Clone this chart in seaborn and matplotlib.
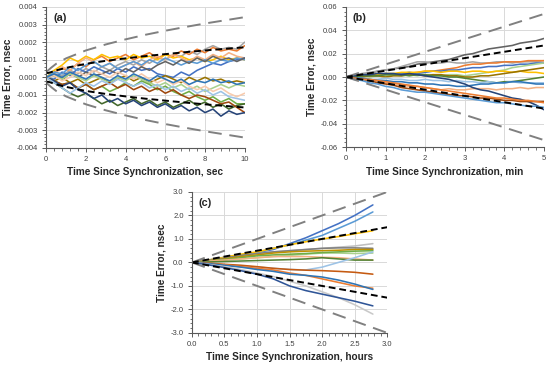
import matplotlib
matplotlib.use("Agg")
import matplotlib.pyplot as plt
from matplotlib.ticker import AutoMinorLocator, MultipleLocator, FuncFormatter
import numpy as np
import pandas as pd
import seaborn as sns

sns.set_theme(style="white")
plt.rcParams['font.family'] = ['Liberation Sans', 'DejaVu Sans']

# ---------------- panel (a): seconds, values in 1e-3 nsec ----------------
t_a = [0, 0.4, 0.8, 1.2, 1.6, 2.0, 2.4, 2.8, 3.2, 3.6, 4.0, 4.4, 4.8, 5.2,
       5.6, 6.0, 6.4, 6.8, 7.2, 7.6, 8.0, 8.4, 8.8, 9.2, 9.6, 10.0]
runs_a = {
    '#A5A5A5': [0, 0.2, 0.1, 0.4, 0.2, 0.5, 0.3, 0.6, 0.4, 0.7, 0.9, 0.7, 1.0, 0.8, 1.1, 1.0, 1.3, 1.2, 1.5, 1.3, 1.6, 1.8, 1.6, 1.7, 1.6, 2.0],
    '#ED7D31': [0, 0.3, 0.5, 0.4, 0.8, 0.6, 1.0, 1.2, 0.9, 1.1, 1.3, 1.0, 1.2, 1.4, 1.1, 1.3, 1.2, 1.5, 1.3, 1.6, 1.4, 1.7, 1.5, 1.6, 1.5, 1.8],
    '#FFC000': [0, 0.4, 0.7, 1.1, 0.9, 1.2, 1.0, 1.3, 1.1, 1.2, 1.0, 1.3, 1.1, 1.2, 1.0, 1.3, 1.1, 1.2, 1.0, 1.1, 0.9, 1.0, 1.2, 1.0, 1.1, 1.0],
    '#F4B183': [0, 0.2, 0.6, 0.4, 0.8, 1.1, 0.9, 0.6, 0.8, 0.5, 0.7, 0.9, 0.6, 1.0, 1.2, 1.0, 1.3, 1.1, 0.9, 1.2, 1.0, 1.3, 1.1, 1.4, 1.2, 1.1],
    '#4472C4': [0, -0.1, 0.3, 0.1, 0.5, 0.3, 0.6, 0.4, 0.2, 0.5, 0.3, 0.6, 0.4, 0.5, 0.2, 0.1, 0.0, 0.3, 0.1, 0.4, 0.6, 0.8, 0.7, 0.9, 1.0, 1.1],
    '#5B9BD5': [0, 0.3, 0.2, 0.6, 0.4, 0.7, 0.9, 0.6, 0.8, 0.5, 0.7, 0.9, 0.7, 1.0, 0.8, 1.1, 0.9, 0.7, 0.9, 0.8, 1.0, 0.8, 1.0, 0.9, 1.1, 1.0],
    '#636363': [0, 0.1, -0.1, 0.2, 0.0, 0.3, 0.1, 0.2, 0.4, 0.2, 0.5, 0.3, 0.6, 0.4, 0.7, 0.9, 0.7, 1.0, 0.8, 1.1, 0.9, 1.2, 1.0, 1.1, 0.9, 1.1],
    '#997300': [0, -0.2, 0.0, -0.3, -0.1, -0.4, -0.2, 0.0, -0.3, -0.1, 0.1, -0.2, 0.0, -0.3, -0.1, 0.1, -0.1, -0.3, 0.0, -0.2, 0.0, -0.2, -0.1, -0.3, -0.2, -0.3],
    '#A9D18E': [0, 0.1, -0.1, 0.2, 0.0, -0.2, 0.1, -0.1, -0.3, 0.0, -0.2, 0.1, -0.1, -0.3, -0.5, -0.3, -0.6, -0.4, -0.7, -0.5, -0.8, -0.6, -0.4, -0.6, -0.4, -0.5],
    '#70AD47': [0, -0.2, -0.4, -0.3, -0.6, -0.4, -0.7, -0.5, -0.8, -0.6, -0.3, -0.5, -0.2, -0.4, -0.7, -0.5, -0.8, -1.0, -0.8, -1.1, -1.3, -1.1, -1.4, -1.2, -1.5, -1.5],
    '#43682B': [0, -0.3, -0.6, -0.9, -1.1, -0.9, -1.2, -1.5, -1.3, -1.6, -1.4, -1.2, -1.5, -1.3, -1.6, -1.4, -1.7, -1.5, -1.3, -1.6, -1.4, -1.7, -1.5, -1.8, -1.6, -1.5],
    '#9E480E': [0, -0.2, -0.4, -0.3, -0.6, -0.4, -0.7, -0.5, -0.3, -0.6, -0.4, -0.7, -0.5, -0.8, -0.6, -0.9, -0.7, -1.0, -1.2, -1.0, -1.1, -1.3, -1.5, -1.4, -1.7, -2.0],
    '#264478': [0, -0.2, -0.5, -0.3, -0.7, -0.9, -1.2, -1.0, -1.4, -1.2, -1.5, -1.3, -1.6, -1.4, -1.7, -1.5, -1.8, -1.6, -1.9, -1.7, -2.0, -1.8, -2.2, -1.9, -2.1, -2.0],
    '#F8CBAD': [0, 0.1, -0.2, 0.0, 0.3, 0.1, 0.4, 0.2, 0.0, 0.3, 0.1, -0.1, 0.2, -0.1, -0.3, -0.1, -0.4, -0.2, -0.5, -0.7, -0.5, -0.8, -0.6, -0.9, -1.1, -0.9],
    '#9DC3E6': [0, -0.3, -0.6, -0.9, -0.6, -0.3, -0.5, -0.2, -0.4, -0.1, -0.3, -0.5, -0.3, -0.6, -0.4, -0.7, -0.5, -0.8, -0.6, -0.9, -0.7, -1.0, -0.8, -1.1, -1.2, -1.3],
    '#2E75B6': [0, 0.2, 0.0, 0.3, 0.1, -0.1, 0.2, 0.0, -0.2, 0.1, -0.1, 0.2, 0.0, -0.2, 0.1, -0.1, -0.3, -0.1, -0.4, -0.2, -0.3, -0.1, -0.3, -0.2, -0.4, -0.3],
}
env_t_a = [0, 0.1, 0.25, 0.5, 1, 2, 3, 4, 5, 6, 7, 8, 9, 10]
outer_a = [0.3, 0.4, 0.55, 0.77, 1.08, 1.53, 1.87, 2.16, 2.42, 2.65, 2.86, 3.06, 3.24, 3.42]
inner_a = [0.25, 0.25, 0.3, 0.4, 0.54, 0.77, 0.94, 1.08, 1.21, 1.32, 1.43, 1.53, 1.62, 1.71]

# ---------------- panel (b): minutes, values in 1e-3 nsec ----------------
t_b = [0, 0.2, 0.4, 0.6, 0.8, 1.0, 1.2, 1.4, 1.6, 1.8, 2.0, 2.2, 2.4, 2.6,
       2.8, 3.0, 3.2, 3.4, 3.6, 3.8, 4.0, 4.2, 4.4, 4.6, 4.8, 5.0]
runs_b = {
    '#636363': [0, 1, 2, 3, 5, 6, 7, 8, 9, 11, 12, 13, 14, 15, 17, 19, 20, 22, 24, 25, 26, 27, 29, 30, 31, 33],
    '#A5A5A5': [0, 1, 3, 4, 5, 6, 7, 9, 11, 13, 13, 12, 12, 13, 12, 12, 13, 12, 12, 13, 13, 12, 13, 13, 13, 14],
    '#ED7D31': [0, 0, 1, 1, 2, 1, 2, 3, 3, 4, 5, 5, 6, 7, 8, 10, 11, 11, 12, 12, 13, 13, 13, 14, 14, 14],
    '#4472C4': [0, 1, 1, 2, 2, 3, 2, 3, 4, 3, 4, 5, 5, 6, 6, 7, 8, 8, 9, 9, 10, 10, 11, 11, 12, 12],
    '#A9D18E': [0, 0, 1, 0, 1, 1, 2, 1, 2, 1, 2, 2, 1, 2, 2, 1, 2, 3, 4, 5, 6, 8, 9, 10, 11, 12],
    '#FFC000': [0, 0, 1, 2, 2, 3, 3, 4, 4, 4, 5, 5, 4, 5, 5, 4, 5, 5, 4, 5, 5, 4, 5, 4, 4, 3],
    '#997300': [0, 0, 0, 1, 1, 0, 1, 1, 2, 2, 1, 2, 2, 1, 1, 0, 0, 1, 1, 2, 3, 4, 5, 6, 7, 8],
    '#548235': [0, 0, 1, 1, 1, 2, 2, 2, 1, 2, 2, 1, 1, 0, 0, -1, -2, -3, -4, -5, -4, -4, -3, -2, -1, 0],
    '#9DC3E6': [0, -1, -1, -2, -2, -1, -2, -2, -3, -3, -2, -3, -3, -4, -3, -4, -4, -5, -4, -5, -5, -4, -5, -5, -5, -5],
    '#F4B183': [0, -1, -2, -3, -4, -5, -6, -7, -8, -8, -9, -10, -11, -10, -11, -11, -10, -10, -10, -11, -10, -10, -9, -10, -9, -9],
    '#2E75B6': [0, -1, -1, -2, -3, -3, -4, -4, -5, -5, -6, -6, -7, -7, -8, -8, -7, -6, -6, -5, -5, -4, -4, -5, -6, -6],
    '#264478': [0, 1, 2, 2, 3, 3, 3, 2, 3, 2, 1, 0, -1, -2, -4, -6, -9, -11, -12, -14, -16, -18, -19, -21, -24, -28],
    '#9E480E': [0, -1, -2, -3, -5, -6, -7, -9, -10, -11, -12, -13, -14, -15, -16, -16, -17, -18, -18, -19, -20, -20, -21, -21, -21, -21],
    '#ED7D31 ': [0, -1, -2, -2, -3, -4, -5, -6, -7, -8, -9, -10, -11, -12, -13, -14, -15, -16, -17, -18, -18, -19, -20, -20, -21, -22],
    '#5B9BD5': [0, -2, -3, -5, -6, -8, -9, -11, -12, -13, -13, -14, -15, -16, -17, -18, -19, -20, -21, -22, -22, -23, -24, -25, -25, -26],
}
env_t_b = [0, 5]
outer_b = [0, 54]
inner_b = [0, 27]

# ---------------- panel (c): hours, values in nsec ----------------
t_c = [0, 0.25, 0.5, 0.75, 1.0, 1.25, 1.5, 1.75, 2.0, 2.25, 2.5, 2.78]
runs_c = {
    '#4472C4': [0, 0.1, 0.22, 0.3, 0.42, 0.55, 0.8, 1.05, 1.35, 1.65, 2.0, 2.45],
    '#5B9BD5': [0, 0.08, 0.18, 0.28, 0.42, 0.6, 0.75, 0.95, 1.15, 1.45, 1.75, 2.15],
    '#FFC000': [0, 0.1, 0.22, 0.35, 0.45, 0.6, 0.75, 0.88, 1.0, 1.1, 1.22, 1.35],
    '#BFBFBF': [0, 0.08, 0.18, 0.28, 0.38, 0.45, 0.5, 0.55, 0.6, 0.65, 0.7, 0.8],
    '#7F7F7F': [0, 0.08, 0.18, 0.3, 0.38, 0.45, 0.5, 0.55, 0.6, 0.62, 0.62, 0.6],
    '#BF9000': [0, 0.07, 0.15, 0.25, 0.32, 0.4, 0.45, 0.48, 0.5, 0.52, 0.55, 0.55],
    '#A9D18E': [0, 0.05, 0.1, 0.15, 0.2, 0.25, 0.3, 0.35, 0.4, 0.4, 0.38, 0.4],
    '#70AD47': [0, 0.05, 0.12, 0.2, 0.28, 0.32, 0.35, 0.38, 0.42, 0.45, 0.48, 0.5],
    '#F4B183': [0, 0.05, 0.1, 0.15, 0.2, 0.25, 0.25, 0.25, 0.22, 0.2, 0.15, 0.1],
    '#548235': [0, 0.02, 0.04, 0.06, 0.08, 0.1, 0.12, 0.15, 0.2, 0.15, 0.1, 0.1],
    '#9DC3E6': [0, -0.05, -0.1, -0.15, -0.2, -0.25, -0.3, -0.32, -0.2, 0.0, 0.2, 0.45],
    '#C55A11': [0, -0.03, -0.08, -0.12, -0.18, -0.25, -0.3, -0.33, -0.35, -0.38, -0.42, -0.5],
    '#ED7D31': [0, -0.05, -0.1, -0.18, -0.25, -0.32, -0.45, -0.55, -0.7, -0.85, -1.0, -1.1],
    '#2E75B6': [0, -0.05, -0.12, -0.2, -0.3, -0.38, -0.5, -0.55, -0.62, -0.75, -0.92, -1.15],
    '#C9C9C9': [0, -0.08, -0.18, -0.3, -0.45, -0.6, -0.8, -1.0, -1.25, -1.5, -1.8, -2.2],
    '#2F5597': [0, -0.1, -0.22, -0.35, -0.5, -0.7, -1.0, -1.2, -1.35, -1.5, -1.65, -1.85],
}
env_t_c = [0, 3]
outer_c = [0, 3.0]
inner_c = [0, 1.5]


def long_form(t, runs, scale):
    frames = []
    for key, vals in runs.items():
        frames.append(pd.DataFrame({'t': t, 'err': np.array(vals) * scale, 'run': key}))
    return pd.concat(frames, ignore_index=True)


def draw_panel(ax, t, runs, scale, env_t, outer, inner, label, xlab, xlim, xmaj, ylim, ymaj, fmt, xfmt):
    df = long_form(t, runs, scale)
    pal = {k: k.strip() for k in runs}
    sns.lineplot(data=df, x='t', y='err', hue='run', palette=pal, estimator=None,
                 legend=False, linewidth=1.15, ax=ax)
    env_t = np.array(env_t)
    for sgn in (1, -1):
        ax.plot(env_t, sgn * np.array(outer) * scale, color='#808080', lw=1.4, dashes=(7, 4))
        ax.plot(env_t, sgn * np.array(inner) * scale, color='black', lw=1.4, dashes=(3.5, 2))
    ax.set_xlim(*xlim)
    ax.set_ylim(*ylim)
    ax.xaxis.set_major_locator(MultipleLocator(xmaj))
    ax.yaxis.set_major_locator(MultipleLocator(ymaj))
    ax.xaxis.set_minor_locator(AutoMinorLocator(5))
    ax.yaxis.set_minor_locator(AutoMinorLocator(5))
    ax.yaxis.set_major_formatter(FuncFormatter(lambda v, p: fmt % (0 if abs(v) < 1e-12 else v)))
    ax.xaxis.set_major_formatter(FuncFormatter(lambda v, p: xfmt % v))
    ax.grid(True, which='major', color='#D9D9D9', lw=0.7)
    ax.set_axisbelow(True)
    for s in ('top', 'right'):
        ax.spines[s].set_visible(False)
    for s in ('left', 'bottom'):
        ax.spines[s].set_color('#595959')
        ax.spines[s].set_linewidth(0.8)
    ax.tick_params(which='major', direction='out', length=3, width=0.7, color='#595959',
                   labelsize=5.5, labelcolor='#404040', pad=3, left=True, bottom=True)
    ax.tick_params(which='minor', direction='out', length=1.8, width=0.6, color='#595959',
                   left=True, bottom=True)
    ax.set_xlabel(xlab, fontsize=7.2, fontweight='bold', labelpad=3)
    ax.set_ylabel('Time Error, nsec', fontsize=7.2, fontweight='bold', labelpad=3)
    ax.text(0.035, 0.96, label, transform=ax.transAxes, fontsize=7.8, fontweight='bold',
            va='top', ha='left')


fig = plt.figure(figsize=(5.5, 3.65), dpi=100)
ax_a = fig.add_axes([0.084, 0.595, 0.361, 0.386])
ax_b = fig.add_axes([0.629, 0.597, 0.360, 0.384])
ax_c = fig.add_axes([0.349, 0.088, 0.355, 0.386])

draw_panel(ax_a, t_a, runs_a, 1e-3, env_t_a, outer_a, inner_a, '(a)',
           'Time Since Synchronization, sec', (0, 10), 2, (-0.004, 0.004), 0.001, '%.3f', '%d')
draw_panel(ax_b, t_b, runs_b, 1e-3, env_t_b, outer_b, inner_b, '(b)',
           'Time Since Synchronization, min', (0, 5), 1, (-0.06, 0.06), 0.02, '%.2f', '%d')
draw_panel(ax_c, t_c, runs_c, 1.0, env_t_c, outer_c, inner_c, '(c)',
           'Time Since Synchronization, hours', (0, 3), 0.5, (-3, 3), 1.0, '%.1f', '%.1f')

fig.savefig('out.png', dpi=100)
